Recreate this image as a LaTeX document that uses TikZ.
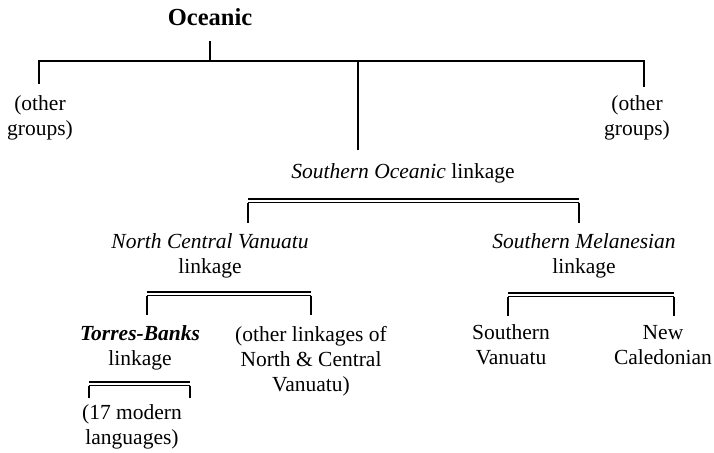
\documentclass[tikz,border=0pt]{standalone}
\usepackage{fontspec}
\setmainfont{Liberation Serif}
\begin{document}
\begin{tikzpicture}[x=1pt,y=-1pt,
  lbl/.style={font=\fontsize{21.5}{25}\selectfont, align=center, inner sep=0pt},
  br/.style={line width=2pt},
  dbl/.style={line width=1.4pt}]
\useasboundingbox (0,0) rectangle (714,452);
% texts
\node[lbl,font=\fontsize{24.5}{28}\selectfont\bfseries] (oce) at (210,17) {Oceanic};
\node[lbl] (og1) at (40,118) {(other\\groups)};
\node[lbl] (og2) at (637,118) {(other\\groups)};
\node[lbl] (so) at (403,173) {\textit{Southern Oceanic} linkage};
\node[lbl] (ncv) at (210,256) {\textit{North Central Vanuatu}\\linkage};
\node[lbl] (sm) at (584,256) {\textit{Southern Melanesian}\\linkage};
\node[lbl] (tb) at (140,348) {\textbf{\textit{Torres-Banks}}\\linkage};
\node[lbl] (ol) at (311,361) {(other linkages of\\North \& Central\\Vanuatu)};
\node[lbl] (mod) at (132,427) {(17 modern\\languages)};
\node[lbl] (sv) at (511,345) {Southern\\Vanuatu};
\node[lbl] (nc) at (663,345) {New\\Caledonian};
% level 1 bracket
\coordinate (t0) at (210,41);
\coordinate (j0) at (210,61);
\coordinate (jl) at (38,61);
\coordinate (jr) at (645,61);
\coordinate (el) at (39,84);
\coordinate (er) at (644,87);
\coordinate (jm) at (358,61);
\coordinate (em) at (358,150);
\draw[br] (t0) -- (j0);
\draw[br] (jl) -- (jr);
\draw[br] (el |- jl) -- (el);
\draw[br] (er |- jr) -- (er);
\draw[br] (jm) -- (em);
% double brackets
\newcommand{\dblbr}[5]{%
  \draw[dbl] (#1,#3) -- (#2,#3);
  \draw[dbl] (#1,#3+3.5) -- (#2,#3+3.5);
  \draw[dbl] (#1,#3+3.5) -- (#1,#4);
  \draw[dbl] (#2,#3+3.5) -- (#2,#4);}
\dblbr{248}{579}{199}{223}{}
\dblbr{147}{311}{292}{315}{}
\dblbr{508}{674}{293}{316}{}
\dblbr{89}{190}{382}{398}{}
\end{tikzpicture}
\end{document}
